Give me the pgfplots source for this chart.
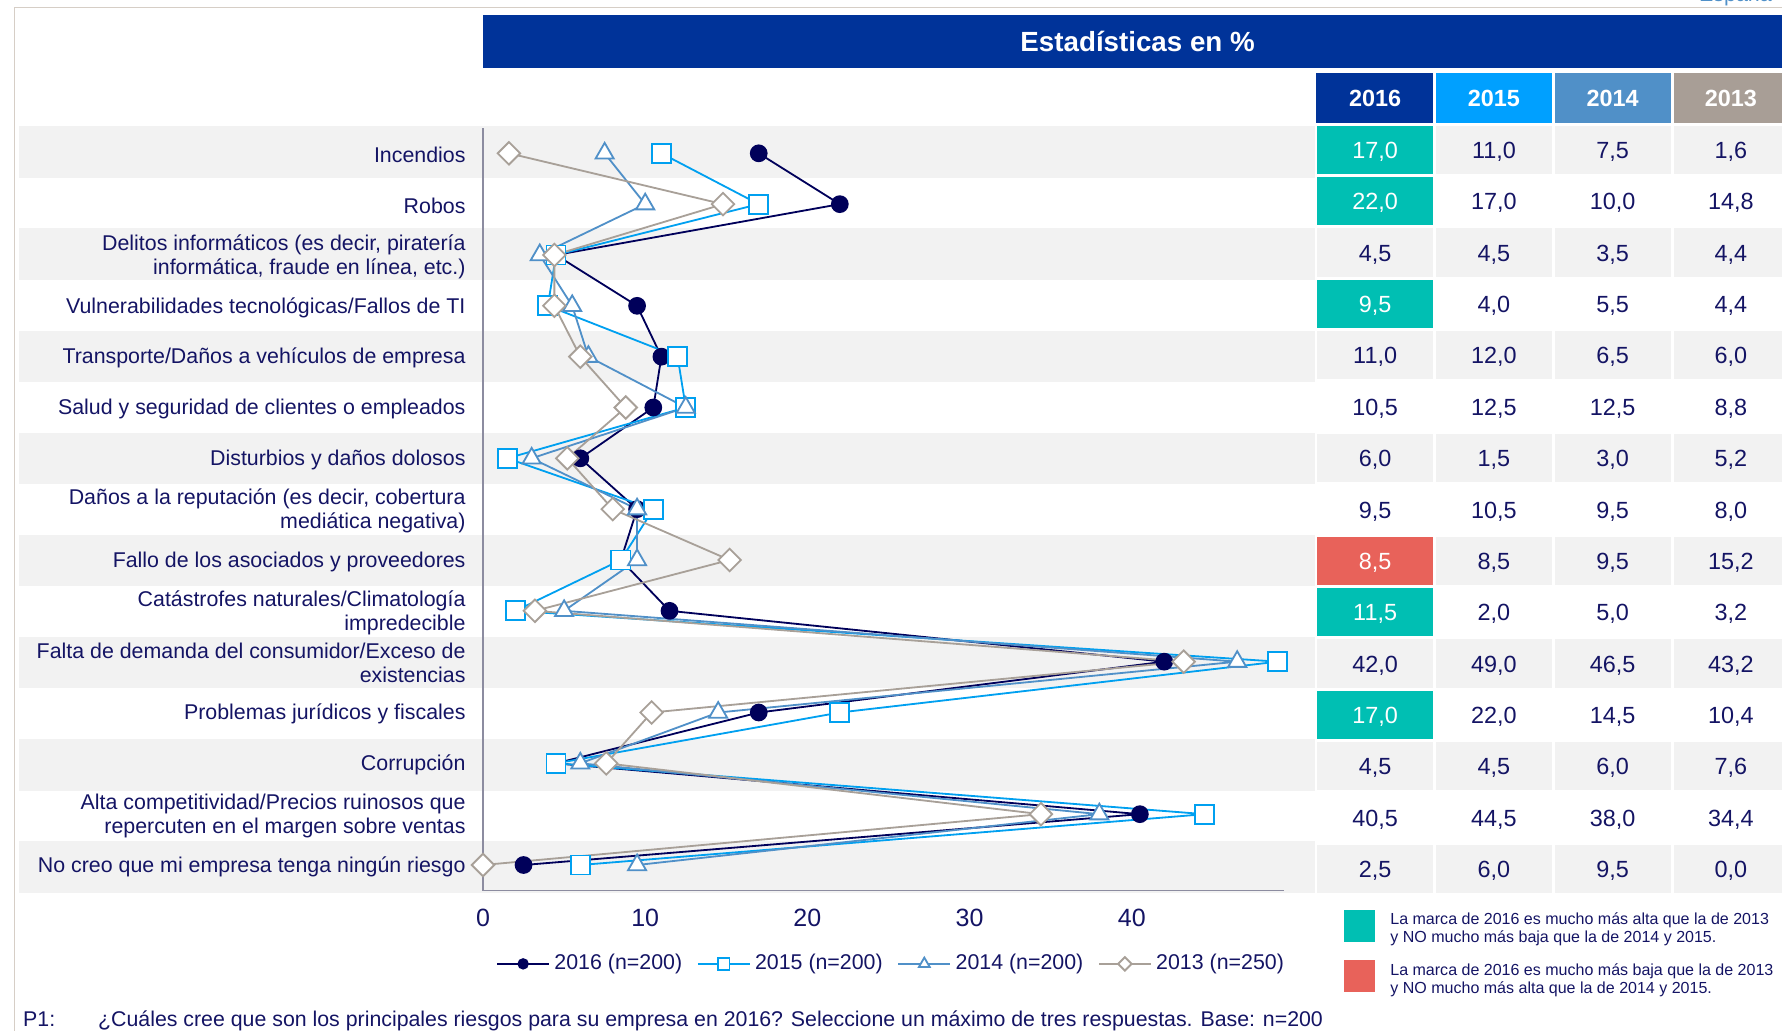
\documentclass[border=0pt]{standalone}
\usepackage{pgfplots}
\usepackage{pgfplotstable}
\pgfplotsset{compat=1.18}
\usepackage{fontspec}
\setmainfont{Liberation Sans}

\definecolor{navytxt}{RGB}{20,20,100}
\definecolor{c16}{RGB}{0,0,90}
\definecolor{c15}{RGB}{0,160,240}
\definecolor{c14}{RGB}{80,144,200}
\definecolor{c13}{RGB}{168,160,152}
\definecolor{titlebg}{RGB}{0,51,153}
\definecolor{h15}{RGB}{0,160,255}
\definecolor{h14}{RGB}{80,144,200}
\definecolor{h13}{RGB}{168,158,150}
\definecolor{teal}{RGB}{0,191,179}
\definecolor{redc}{RGB}{232,98,90}
\definecolor{bandgray}{RGB}{242,242,242}
\definecolor{framecol}{RGB}{214,206,198}
\definecolor{axisgray}{RGB}{140,140,160}

% rows: 0 = Incendios ... 14 = No creo
\pgfplotstableread{
row v16 v15 v14 v13
0 17.0 11.0 7.5 1.6
1 22.0 17.0 10.0 14.8
2 4.5 4.5 3.5 4.4
3 9.5 4.0 5.5 4.4
4 11.0 12.0 6.5 6.0
5 10.5 12.5 12.5 8.8
6 6.0 1.5 3.0 5.2
7 9.5 10.5 9.5 8.0
8 8.5 8.5 9.5 15.2
9 11.5 2.0 5.0 3.2
10 42.0 49.0 46.5 43.2
11 17.0 22.0 14.5 10.4
12 4.5 4.5 6.0 7.6
13 40.5 44.5 38.0 34.4
14 2.5 6.0 9.5 0.0
}\riskdata

\newcommand{\trow}[6]{%
  \node[anchor=base,text=#2,font=\fontsize{10.3}{12}\selectfont] at (1210,{139.4+45.2*#1}) {#3};
  \node[anchor=base,text=navytxt,font=\fontsize{10.3}{12}\selectfont] at (1314.5,{139.4+45.2*#1}) {#4};
  \node[anchor=base,text=navytxt,font=\fontsize{10.3}{12}\selectfont] at (1419,{139.4+45.2*#1}) {#5};
  \node[anchor=base,text=navytxt,font=\fontsize{10.3}{12}\selectfont] at (1523,{139.4+45.2*#1}) {#6};
}
\newcommand{\hcell}[2]{%
  \fill[#2] (1159,{110.5+45.2*#1}) rectangle (1261,{153+45.2*#1});
}

\begin{document}
\begin{tikzpicture}
\useasboundingbox (0pt,0pt) rectangle (784pt,-453.5pt);
\begin{scope}[x=0.5pt,y=-0.5pt]
  % frame
  \draw[framecol,line width=0.6pt] (13,920) -- (13,6.5) -- (1600,6.5);
  \node[anchor=base,text=c14,font=\fontsize{9.4}{11}\selectfont] at (1527,1.5) {España};
  % bands
  \foreach \i in {0,2,...,14} {
    \fill[bandgray] (17,{111+44.95*\i}) rectangle (1157,{156.3+44.95*\i});
    \fill[bandgray] (1159,{110.5+45.2*\i}) rectangle (1261,{153+45.2*\i});
    \fill[bandgray] (1263.5,{110.5+45.2*\i}) rectangle (1365.5,{153+45.2*\i});
    \fill[bandgray] (1368,{110.5+45.2*\i}) rectangle (1470,{153+45.2*\i});
    \fill[bandgray] (1473,{110.5+45.2*\i}) rectangle (1600,{153+45.2*\i});
  }
  % title bar
  \fill[titlebg] (425,13) rectangle (1600,60);
  \node[anchor=base,text=white,font=\fontsize{12.2}{14}\selectfont\bfseries] at (1001,45.7) {Estadísticas en \%};
  % headers
  \fill[titlebg] (1158,64) rectangle (1261,108);
  \fill[h15] (1263.5,64) rectangle (1366,108);
  \fill[h14] (1368,64) rectangle (1470,108);
  \fill[h13] (1473,64) rectangle (1600,108);
  \foreach \x/\t in {1210/2016,1314.5/2015,1419/2014,1523/2013}
    \node[anchor=base,text=white,font=\fontsize{10.3}{12}\selectfont\bfseries] at (\x,94) {\t};
  % highlighted cells
  \hcell{0}{teal}\hcell{1}{teal}\hcell{3}{teal}\hcell{8}{redc}\hcell{9}{teal}\hcell{11}{teal}
  % table values
  \trow{0}{white}{17,0}{11,0}{7,5}{1,6}
  \trow{1}{white}{22,0}{17,0}{10,0}{14,8}
  \trow{2}{navytxt}{4,5}{4,5}{3,5}{4,4}
  \trow{3}{white}{9,5}{4,0}{5,5}{4,4}
  \trow{4}{navytxt}{11,0}{12,0}{6,5}{6,0}
  \trow{5}{navytxt}{10,5}{12,5}{12,5}{8,8}
  \trow{6}{navytxt}{6,0}{1,5}{3,0}{5,2}
  \trow{7}{navytxt}{9,5}{10,5}{9,5}{8,0}
  \trow{8}{white}{8,5}{8,5}{9,5}{15,2}
  \trow{9}{white}{11,5}{2,0}{5,0}{3,2}
  \trow{10}{navytxt}{42,0}{49,0}{46,5}{43,2}
  \trow{11}{white}{17,0}{22,0}{14,5}{10,4}
  \trow{12}{navytxt}{4,5}{4,5}{6,0}{7,6}
  \trow{13}{navytxt}{40,5}{44,5}{38,0}{34,4}
  \trow{14}{navytxt}{2,5}{6,0}{9,5}{0,0}
  % notes
  \fill[teal] (1183,800.5) rectangle (1210,829);
  \fill[redc] (1183,845) rectangle (1210,873);
  \begin{scope}[every node/.style={anchor=base west,inner sep=0pt,text=navytxt,font=\fontsize{7.05}{8}\selectfont}]
    \node at (1223,813.5) {La marca de 2016 es mucho más alta que la de 2013};
    \node at (1223,829.5) {y NO mucho más baja que la de 2014 y 2015.};
    \node at (1223,858) {La marca de 2016 es mucho más baja que la de 2013};
    \node at (1223,874) {y NO mucho más alta que la de 2014 y 2015.};
  \end{scope}
  \begin{scope}[every node/.style={anchor=base west,inner sep=0pt,text=navytxt,font=\fontsize{9.38}{11}\selectfont}]
    \node at (20,903) {P1:};
    \node at (86,903) {¿Cuáles cree que son los principales riesgos para su empresa en 2016? Seleccione un máximo de tres respuestas. Base: n=200};
  \end{scope}
\end{scope}

\begin{axis}[
  at={(212.5pt,-391.85pt)}, anchor=south west, scale only axis,
  width=352.5pt, height=335.45pt,
  xmin=0, xmax=49.4, ymin=-14.505, ymax=0.494,
  axis lines*=left,
  axis line style={draw=axisgray,line width=0.7pt},
  major tick length=0pt,
  xtick={0,10,20,30,40},
  /pgf/number format/assume math mode=true,
  xticklabel style={font=\fontsize{11}{13}\selectfont,text=navytxt,yshift=-4.5pt},
  ytick={-14,-13,...,0},
  yticklabels={
    No creo que mi empresa tenga ningún riesgo,
    {Alta competitividad/Precios ruinosos que\\repercuten en el margen sobre ventas},
    Corrupción,
    Problemas jurídicos y fiscales,
    {Falta de demanda del consumidor/Exceso de\\existencias},
    {Catástrofes naturales/Climatología\\impredecible},
    Fallo de los asociados y proveedores,
    {Daños a la reputación (es decir, cobertura\\mediática negativa)},
    Disturbios y daños dolosos,
    Salud y seguridad de clientes o empleados,
    Transporte/Daños a vehículos de empresa,
    Vulnerabilidades tecnológicas/Fallos de TI,
    {Delitos informáticos (es decir, piratería\\informática, fraude en línea, etc.)},
    Robos,
    Incendios},
  yticklabel style={align=right,inner sep=0pt,xshift=-7.5pt,yshift=-0.7pt,text=navytxt,font=\fontsize{9.4}{10.5}\selectfont},
  clip=false,
  legend columns=4,
  legend style={at={(0.511,-0.096)},anchor=center,draw=none,fill=none,
    font=\fontsize{9.4}{11}\selectfont,text=navytxt,
    /tikz/every even column/.append style={column sep=4.5pt}},
  legend image code/.code={
    \draw[mark repeat=2,mark phase=2,/tikz/every mark/.append style={scale=0.6}]
      plot coordinates {(0cm,0cm) (0.4cm,0cm) (0.8cm,0cm)};
  },
]
\addplot[c16,line width=0.8pt,mark=*,mark size=3.5pt,mark options={fill=c16,draw=c16}]
  table[x=v16,y expr=-\thisrow{row}] {\riskdata};
\addlegendentry{2016 (n=200)}
\addplot[c15,line width=0.8pt,mark=square*,mark size=4.2pt,mark options={fill=white,draw=c15,line width=0.8pt}]
  table[x=v15,y expr=-\thisrow{row}] {\riskdata};
\addlegendentry{2015 (n=200)}
\addplot[c14,line width=0.8pt,mark=triangle*,mark size=4.6pt,mark options={fill=white,draw=c14,line width=0.8pt}]
  table[x=v14,y expr=-\thisrow{row}] {\riskdata};
\addlegendentry{2014 (n=200)}
\addplot[c13,line width=0.8pt,mark=square*,mark size=3.5pt,mark options={fill=white,draw=c13,line width=0.8pt,rotate=45}]
  table[x=v13,y expr=-\thisrow{row}] {\riskdata};
\addlegendentry{2013 (n=250)}
\end{axis}
\end{tikzpicture}
\end{document}
